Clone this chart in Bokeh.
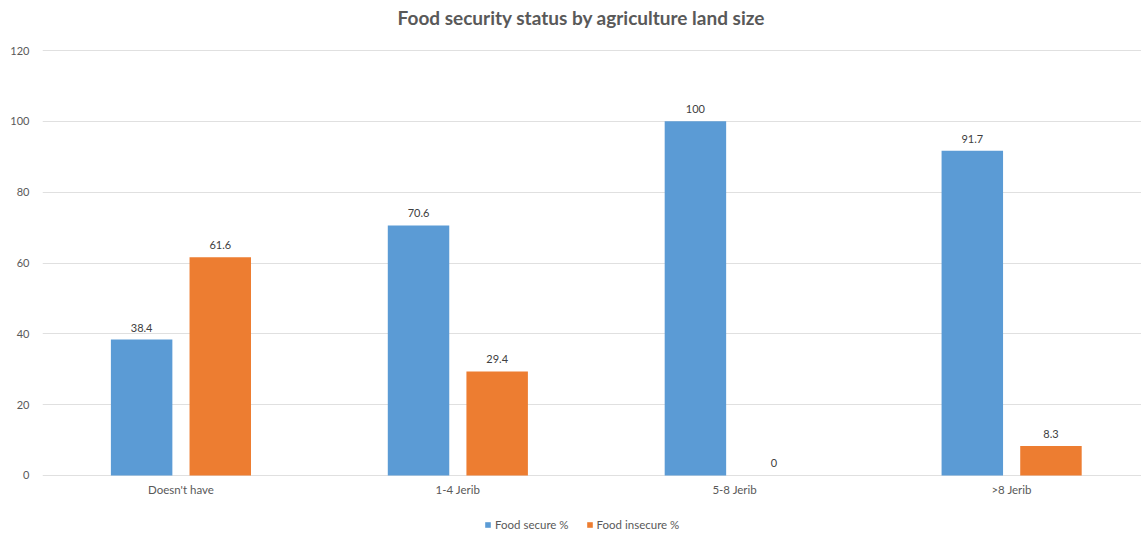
from bokeh.plotting import figure
from bokeh.models import Range1d, ColumnDataSource, Legend, LegendItem, FixedTicker, Label
from bokeh.core.properties import value
from bokeh.embed import file_html
from bokeh.resources import INLINE

# Data
categories = ["Doesn't have", "1-4 Jerib", "5-8 Jerib", ">8 Jerib"]
food_secure = [38.4, 70.6, 100, 91.7]
food_insecure = [61.6, 29.4, 0, 8.3]
y_ticks = [0, 20, 40, 60, 80, 100, 120]

BLUE = "#5B9BD5"
ORANGE = "#ED7D31"
FONT = "Lato"
TEXT_GREY = "#595959"

xs = list(range(len(categories)))
offset = 0.142
bar_w = 0.222

# The frame fills the whole canvas height so the title, the category labels
# and the legend can all be placed inside it around the bars.
p = figure(width=1141, height=537, output_backend="svg", toolbar_location=None,
           x_axis_location=None,
           x_range=Range1d(-0.5, 3.469), y_range=Range1d(-17.506, 134.118),
           min_border_left=42, min_border_right=0, min_border_top=0, min_border_bottom=0)

p.outline_line_color = None
p.background_fill_color = "white"
p.border_fill_color = "white"

title = Label(x=539, y=520, x_units="screen", y_units="screen",
              text="Food security status by agriculture land size",
              text_align="center", text_baseline="middle", text_font=FONT,
              text_font_size="19px", text_font_style="bold", text_color=TEXT_GREY)
p.add_layout(title)

src_a = ColumnDataSource(dict(x=[x - offset for x in xs], top=food_secure,
                              lbl=[f"{v:g}" for v in food_secure]))
src_b = ColumnDataSource(dict(x=[x + offset for x in xs], top=food_insecure,
                              lbl=[f"{v:g}" for v in food_insecure]))

r_a = p.vbar(x="x", top="top", width=bar_w, source=src_a, fill_color=BLUE, line_color=None)
r_b = p.vbar(x="x", top="top", width=bar_w, source=src_b, fill_color=ORANGE, line_color=None)

for src in (src_a, src_b):
    p.text(x="x", y="top", text="lbl", source=src, text_align="center",
           text_baseline="bottom", y_offset=-8, text_font=value(FONT),
           text_font_size="11px", text_color="#404040")

# Category labels under the zero line
cat_src = ColumnDataSource(dict(x=xs, y=[0] * len(xs), lbl=categories))
p.text(x="x", y="y", text="lbl", source=cat_src, text_align="center",
       text_baseline="top", y_offset=8, text_font=value(FONT),
       text_font_size="11.5px", text_color=TEXT_GREY)

# Value axis
p.yaxis.ticker = FixedTicker(ticks=y_ticks)
p.yaxis.axis_line_color = None
p.yaxis.major_tick_line_color = None
p.yaxis.minor_tick_line_color = None
p.yaxis.major_label_standoff = 7
p.yaxis.major_label_text_font = FONT
p.yaxis.major_label_text_font_size = "11px"
p.yaxis.major_label_text_color = TEXT_GREY

p.xgrid.grid_line_color = None
p.ygrid.grid_line_color = "#e0e0e0"
p.ygrid.grid_line_width = 1

legend = Legend(items=[LegendItem(label="Food secure %", renderers=[r_a]),
                       LegendItem(label="Food insecure %", renderers=[r_b])],
                orientation="horizontal", location=(442, 6),
                glyph_width=7, glyph_height=7, label_text_font=FONT,
                label_text_font_size="11.5px", label_text_color=TEXT_GREY,
                label_height=10, label_standoff=4, spacing=17, padding=0, margin=0,
                border_line_alpha=0, background_fill_alpha=0)
p.add_layout(legend, "center")

open("out.html", "w").write(file_html(p, INLINE))
